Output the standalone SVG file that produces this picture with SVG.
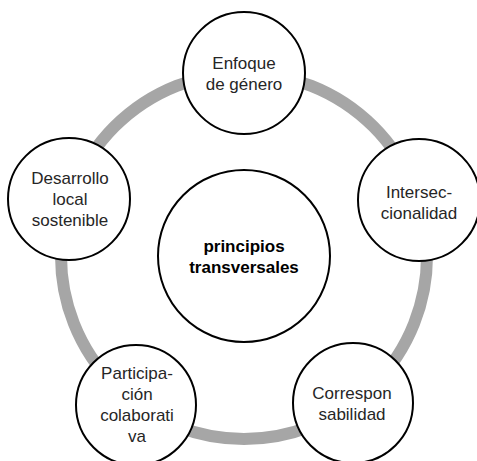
<svg xmlns="http://www.w3.org/2000/svg" width="477" height="461" viewBox="0 0 477 461">
<style>
.node{fill:#fff;stroke:#000;stroke-width:2}
.t{font-family:"Liberation Sans",Arial,sans-serif;font-size:17px;fill:#262626;text-anchor:middle}
.b{font-weight:bold;fill:#000}
</style>
<rect width="477" height="461" fill="#fff"/>
<g id="connectors">
<circle cx="244" cy="256" r="183" fill="none" stroke="#a6a6a6" stroke-width="12"/>
</g>
<g id="center">
<circle class="node" cx="244" cy="256" r="86"/>
<text class="t b" x="244" y="252">principios</text>
<text class="t b" x="244" y="273">transversales</text>
</g>
<g id="enfoque">
<circle class="node" cx="244" cy="73" r="61"/>
<text class="t" x="244" y="69">Enfoque</text>
<text class="t" x="244" y="90">de género</text>
</g>
<g id="interseccionalidad">
<circle class="node" cx="419" cy="200" r="61"/>
<text class="t" x="419" y="198">Intersec-</text>
<text class="t" x="419" y="219">cionalidad</text>
</g>
<g id="corresponsabilidad">
<circle class="node" cx="353" cy="403" r="60"/>
<text class="t" x="352" y="399">Correspon</text>
<text class="t" x="352" y="420">sabilidad</text>
</g>
<g id="participacion">
<circle class="node" cx="136" cy="405" r="60"/>
<text class="t" x="137" y="379">Participa-</text>
<text class="t" x="137" y="400">ción</text>
<text class="t" x="137" y="421">colaborati</text>
<text class="t" x="137" y="442">va</text>
</g>
<g id="desarrollo">
<circle class="node" cx="69" cy="199" r="61"/>
<text class="t" x="70" y="184">Desarrollo</text>
<text class="t" x="70" y="205">local</text>
<text class="t" x="70" y="226">sostenible</text>
</g>
</svg>
